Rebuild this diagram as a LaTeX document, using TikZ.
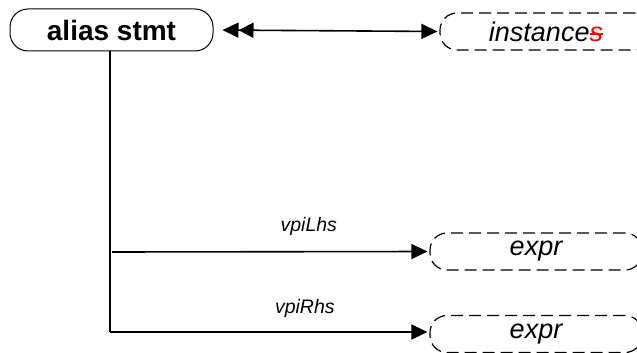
\documentclass[tikz,border=0pt]{standalone}
\usepackage{fontspec}
\setmainfont{Liberation Sans}
\usetikzlibrary{arrows.meta}
\newcommand{\redstrike}[1]{\textcolor{red}{\setbox0\hbox{#1}\rlap{#1}\rule[0.24em]{\wd0}{0.07em}}}
\begin{document}
\begin{tikzpicture}[x=1pt,y=-1pt,
  objbox/.style={draw, line width=1pt, rounded corners=18pt, minimum width=203pt, minimum height=42pt, inner sep=0pt, font=\fontsize{28}{32}\selectfont\bfseries},
  refbox/.style={draw, dash pattern=on 12pt off 6pt, line width=1.2pt, rounded corners=17pt, minimum width=212pt, minimum height=37pt, inner sep=0pt, font=\fontsize{27}{31}\selectfont\itshape},
  conn/.style={line width=1.6pt},
  tip/.style={-{Triangle[length=16pt,width=15pt]}},
  lbl/.style={font=\fontsize{19.5}{22}\selectfont\itshape, inner sep=0pt}
]
\useasboundingbox (0,0) rectangle (637,353);
\node[objbox] (alias) at (111.5,30) {alias stmt};
\node[refbox] (inst) at (546,31.5) {instance\redstrike{s}};
\node[refbox] (expr1) at (536,251.5) {expr};
\node[refbox] (expr2) at (536,334) {expr};
\coordinate (t1) at (110,252);
\coordinate (s1) at (112,252);
\coordinate (t2) at (110,332);
\draw[conn, {Triangle[length=16pt,width=15pt,sep=5pt]Triangle[length=15pt,width=15pt]}-{Triangle[length=16pt,width=15pt]}, shorten <=4pt, shorten >=2pt] (alias.east) -- (inst.west);
\draw[conn] (alias.south -| t1) -- (t2);
\draw[conn, tip, shorten >=2pt] (s1) -- (expr1.west) node[lbl, pos=0.62, above=15pt] {vpiLhs};
\draw[conn, tip, shorten >=2pt] (t2) -- (expr2.west |- t2) node[lbl, pos=0.61, above=14pt] {vpiRhs};
\end{tikzpicture}
\end{document}
